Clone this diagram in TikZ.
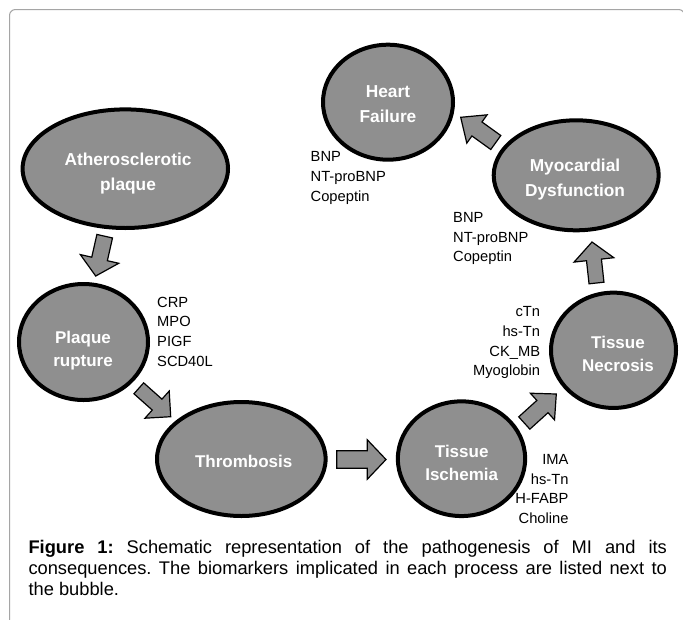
\documentclass[tikz,border=0pt]{standalone}
\usepackage{fontspec}
\setmainfont{Liberation Sans}
\usetikzlibrary{calc,shapes.geometric}
\definecolor{bubfill}{RGB}{143,143,143}
\definecolor{framegray}{RGB}{165,165,165}
% #1 tail coordinate, #2 tip coordinate, #3 shaft half width, #4 head half width, #5 head length
\newcommand\mkarrow[5]{%
  \coordinate (bah) at ($(#2)!#5!(#1)$);
  \draw[barrowstyle] ($(#1)!#3!90:(#2)$) -- ($(bah)!#3!90:(#2)$) -- ($(bah)!#4!90:(#2)$) -- (#2)
     -- ($(bah)!#4!-90:(#2)$) -- ($(bah)!#3!-90:(#2)$) -- ($(#1)!#3!-90:(#2)$) -- cycle;
}
\tikzset{
  bubble/.style={ellipse, draw=black, line width=4pt, fill=bubfill, inner sep=0pt},
  bubtext/.style={text=white, font=\fontsize{17.3}{25}\selectfont\bfseries, align=center, inner sep=0pt},
  bubtextb/.style={text=white, font=\fontsize{17}{23}\selectfont\bfseries, align=center, inner sep=0pt},
  biotext/.style={font=\fontsize{14.7}{19.7}\selectfont, inner sep=0pt},
  barrowstyle/.style={draw=black, line width=1.2pt, fill=bubfill, line join=miter},
}
\frenchspacing
\begin{document}
\begin{tikzpicture}[x=1pt,y=-1pt]
\useasboundingbox (0,0) rectangle (683,619);
\clip (0,0) rectangle (683,619);
\fill[white] (0,0) rectangle (683,619);
% frame
\draw[framegray, line width=1pt, rounded corners=6pt] (9.5,700) -- (9.5,9.5) -- (684.5,9.5) -- (684.5,700);

% bubbles
\node[bubble, minimum width=205.4pt, minimum height=118.6pt] (ath) at (125.3,168.7) {};
\node[bubtext] (atht) at (128,174) {Atherosclerotic\\plaque};
\node[bubble, minimum width=130pt, minimum height=115pt] (hf) at (388,102.2) {};
\node[bubtext] (hft) at (388,104.2) {Heart\\Failure};
\node[bubble, minimum width=165pt, minimum height=110pt] (md) at (576.2,175.3) {};
\node[bubtext] (mdt) at (575,179.6) {Myocardial\\Dysfunction};
\node[bubble, minimum width=129pt, minimum height=116pt] (pr) at (83.5,342) {};
\node[bubtextb] (prt) at (83,350.3) {Plaque\\rupture};
\node[bubble, minimum width=168.6pt, minimum height=114pt] (th) at (241.3,459) {};
\node[bubtextb] (tht) at (243.7,461.7) {Thrombosis};
\node[bubble, minimum width=127.3pt, minimum height=114.7pt] (ti) at (461.5,458.7) {};
\node[bubtextb] (tit) at (461.7,462.5) {Tissue\\Ischemia};
\node[bubble, minimum width=125pt, minimum height=115.3pt] (tn) at (613.5,350.3) {};
\node[bubtextb] (tnt) at (618,354.2) {Tissue\\Necrosis};

% biomarkers
\node[biotext, anchor=north west, align=left] (hfbio) at (310.5,151.4) {BNP\\NT-proBNP\\Copeptin};
\node[biotext, anchor=north west, align=left] (mdbio) at (453,212) {BNP\\NT-proBNP\\Copeptin};
\node[biotext, anchor=north west, align=left] (prbio) at (157,296.7) {CRP\\MPO\\PIGF\\SCD40L};
\node[biotext, anchor=north east, align=right] (tnbio) at (540.3,306.4) {cTn\\hs-Tn\\CK\_MB\\Myoglobin};
\node[biotext, anchor=north east, align=right] (tibio) at (568.7,454) {IMA\\hs-Tn\\H-FABP\\Choline};

% block arrows
\coordinate (a1s) at (104.7,236.2); \coordinate (a1e) at (95.7,276);
\coordinate (a2s) at (138.8,388.3); \coordinate (a2e) at (170.7,416.7);
\coordinate (a3s) at (336.7,459.5); \coordinate (a3e) at (386,459.5);
\coordinate (a5s) at (524.3,423); \coordinate (a5e) at (556.3,394);
\coordinate (a4s) at (596.5,283); \coordinate (a4e) at (592,242);
\coordinate (a6s) at (495.8,142.5); \coordinate (a6e) at (460.7,117.3);
\mkarrow{a1s}{a1e}{8pt}{19.7pt}{17.5pt}
\mkarrow{a2s}{a2e}{7.3pt}{18.2pt}{18.2pt}
\mkarrow{a3s}{a3e}{8.7pt}{19.7pt}{18.7pt}
\mkarrow{a5s}{a5e}{8.3pt}{18pt}{18.7pt}
\mkarrow{a4s}{a4e}{7.5pt}{20pt}{18pt}
\mkarrow{a6s}{a6e}{8.6pt}{17.4pt}{20pt}

% caption
\node[anchor=north west, inner sep=0pt, text width=638.4pt, align=justify,
      font=\fontsize{18.3}{20.8}\selectfont] (cap) at (28.3,540)
  {\hyphenpenalty=10000\relax\tolerance=10000\relax
   \textbf{Figure 1:} Schematic representation of the pathogenesis of MI and its\linebreak consequences. The biomarkers implicated in each process are listed next to\linebreak the bubble.};
\end{tikzpicture}
\end{document}
